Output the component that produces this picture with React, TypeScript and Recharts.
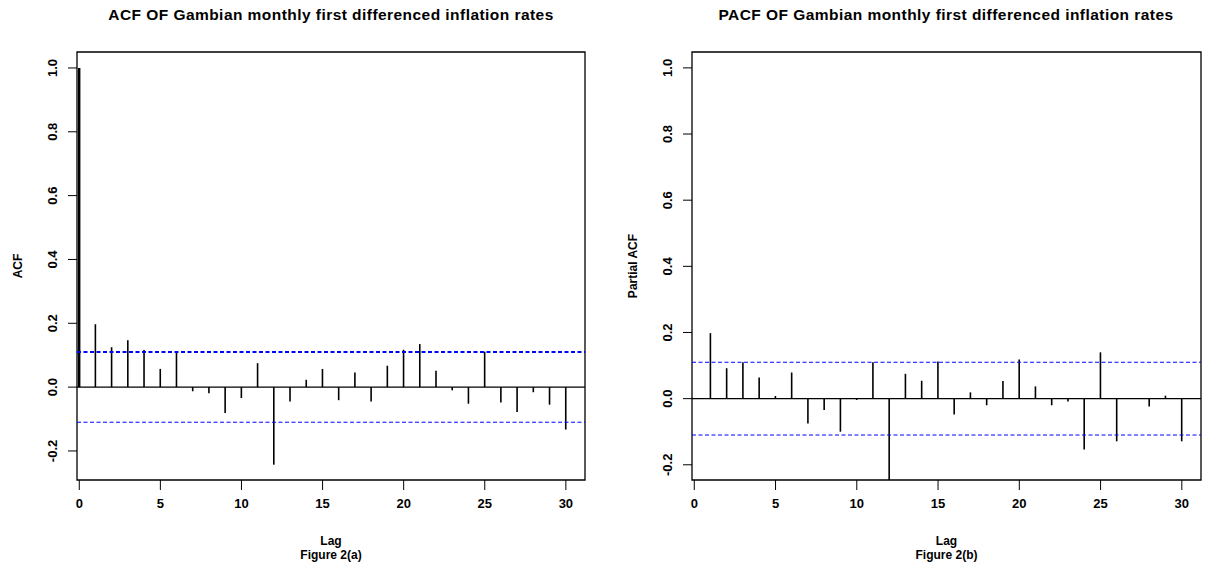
import React from "react";
import {
  ComposedChart,
  Bar,
  XAxis,
  YAxis,
  ReferenceLine,
  ReferenceArea,
} from "recharts";

const ACF_LAGS = [0, 1, 2, 3, 4, 5, 6, 7, 8, 9, 10, 11, 12, 13, 14, 15, 16, 17, 18, 19, 20, 21, 22, 23, 24, 25, 26, 27, 28, 29, 30];
const ACF_VALUES = [
  1.0, 0.197, 0.125, 0.147, 0.116, 0.057, 0.111, -0.013, -0.019, -0.081, -0.034,
  0.075, -0.243, -0.045, 0.023, 0.057, -0.041, 0.046, -0.045, 0.067, 0.117,
  0.135, 0.051, -0.01, -0.052, 0.111, -0.048, -0.078, -0.016, -0.055, -0.133,
];

const PACF_LAGS = [1, 2, 3, 4, 5, 6, 7, 8, 9, 10, 11, 12, 13, 14, 15, 16, 17, 18, 19, 20, 21, 22, 23, 24, 25, 26, 27, 28, 29, 30];
const PACF_VALUES = [
  0.198, 0.092, 0.11, 0.064, 0.008, 0.079, -0.075, -0.034, -0.1, -0.004,
  0.11, -0.246, 0.075, 0.054, 0.112, -0.048, 0.019, -0.02, 0.053, 0.118,
  0.037, -0.02, -0.009, -0.154, 0.14, -0.129, 0.002, -0.024, 0.009, -0.129,
];

const CONF_LIMIT = 0.11;
const X_TICKS = [0, 5, 10, 15, 20, 25, 30];
const Y_TICKS = [-0.2, 0, 0.2, 0.4, 0.6, 0.8, 1.0];

const FONT = "'Liberation Sans', Arial, Helvetica, sans-serif";
const X_DOMAIN: [number, number] = [-0.14, 31.18];

// vertical spike from zero to the value
const Spike = (props: any) => {
  const { x, y, width, height, lag } = props;
  const cx = x + width / 2;
  return (
    <line
      x1={cx}
      x2={cx}
      y1={y}
      y2={y + height}
      stroke="#000"
      strokeWidth={lag === 0 ? 2.5 : 1.6}
    />
  );
};

const RotatedTick = (props: any) => {
  const { x, y, payload } = props;
  return (
    <text
      x={x}
      y={y}
      dy="0.35em"
      transform={`rotate(-90, ${x}, ${y})`}
      textAnchor="middle"
      fill="#000"
      fontSize={13}
      fontWeight="bold"
      fontFamily={FONT}
    >
      {payload.value.toFixed(1)}
    </text>
  );
};

function CorrPanel({
  data,
  yDomain,
  yLabel,
  figure,
  upperWidth,
  width,
}: {
  data: { lag: number; value: number }[];
  yDomain: [number, number];
  yLabel: string;
  figure: string;
  upperWidth: number;
  width: number;
}) {
  return (
    <ComposedChart width={width} height={576} data={data} margin={{ top: 52, right: 15, bottom: 0, left: 0 }}>
      <XAxis
        dataKey="lag"
        type="number"
        domain={X_DOMAIN}
        ticks={X_TICKS}
        allowDataOverflow
        height={96}
        axisLine={false}
        tickSize={10}
        tickMargin={9}
        tickLine={{ stroke: "#000", strokeWidth: 1 }}
        tick={{ fill: "#000", fontSize: 13, fontWeight: "bold", fontFamily: FONT }}
        label={{
          content: (p: any) => {
            const vb = p.viewBox;
            const cx = vb.x + vb.width / 2;
            return (
              <g fontFamily={FONT} fontSize={12} fontWeight="bold" fill="#000" textAnchor="middle">
                <text x={cx} y={vb.y + 61} dominantBaseline="central">Lag</text>
                <text x={cx} y={vb.y + 75} dominantBaseline="central">{figure}</text>
              </g>
            );
          },
        }}
      />
      <YAxis
        type="number"
        domain={yDomain}
        ticks={Y_TICKS}
        allowDataOverflow
        width={77}
        axisLine={false}
        tickSize={9}
        tickMargin={16}
        tickLine={{ stroke: "#000", strokeWidth: 1 }}
        tick={<RotatedTick />}
        label={{
          content: (p: any) => {
            const vb = p.viewBox;
            const cy = vb.y + vb.height / 2;
            return (
              <text
                x={18}
                y={cy}
                dy="0.35em"
                transform={`rotate(-90, 18, ${cy})`}
                textAnchor="middle"
                fontFamily={FONT}
                fontSize={12}
                fontWeight="bold"
                fill="#000"
              >
                {yLabel}
              </text>
            );
          },
        }}
      />
      <ReferenceArea
        x1={X_DOMAIN[0]}
        x2={X_DOMAIN[1]}
        y1={yDomain[0]}
        y2={yDomain[1]}
        fill="none"
        stroke="#000"
        strokeWidth={1.3}
        ifOverflow="visible"
      />
      <ReferenceLine y={0} stroke="#000" strokeWidth={1.3} />
      <ReferenceLine y={CONF_LIMIT} stroke="#0000ff" strokeWidth={upperWidth} strokeDasharray="4 2.5" />
      <ReferenceLine y={-CONF_LIMIT} stroke="#0000ff" strokeWidth={1} strokeDasharray="4 2.5" />
      <Bar dataKey="value" barSize={2} shape={<Spike />} isAnimationActive={false} />
    </ComposedChart>
  );
}

const titleStyle = (cx: number): React.CSSProperties => ({
  position: "absolute",
  top: 6,
  left: cx - 300,
  width: 600,
  textAlign: "center",
  fontFamily: FONT,
  fontWeight: "bold",
  fontSize: 15.5,
  letterSpacing: 0.45,
  color: "#000",
  whiteSpace: "nowrap",
});

export default function App() {
  const acfData = ACF_LAGS.map((lag, i) => ({ lag, value: ACF_VALUES[i] }));
  const pacfData = PACF_LAGS.map((lag, i) => ({ lag, value: PACF_VALUES[i] }));

  return (
    <div style={{ position: "absolute", left: 0, top: 0, width: 1216, height: 576, background: "#fff" }}>
      <div style={titleStyle(331)}>ACF OF Gambian monthly first differenced inflation rates</div>
      <div style={titleStyle(946)}>PACF OF Gambian monthly first differenced inflation rates</div>
      <div style={{ position: "absolute", left: 0, top: 0 }}>
        <CorrPanel data={acfData} yDomain={[-0.291, 1.05]} yLabel="ACF" figure="Figure 2(a)" upperWidth={2} width={600} />
      </div>
      <div style={{ position: "absolute", left: 615, top: 0 }}>
        <CorrPanel data={pacfData} yDomain={[-0.246, 1.048]} yLabel="Partial ACF" figure="Figure 2(b)" upperWidth={1} width={601} />
      </div>
    </div>
  );
}
